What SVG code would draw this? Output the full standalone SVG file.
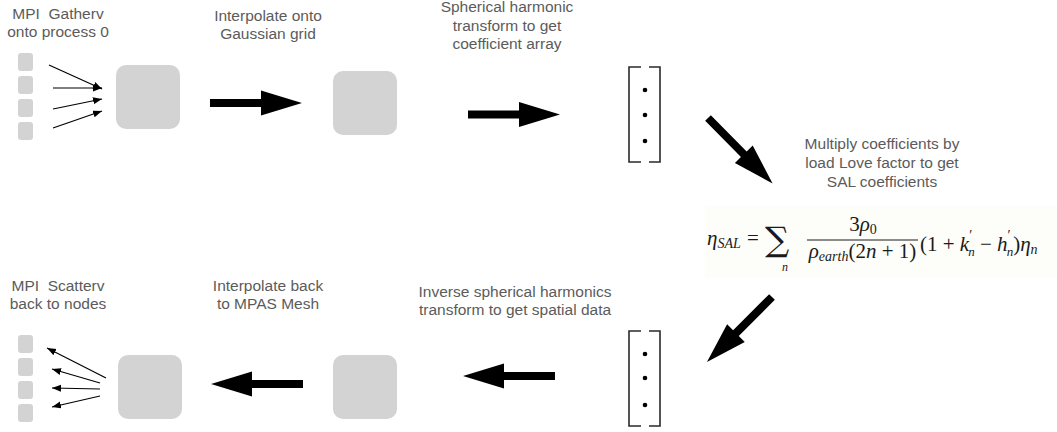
<svg xmlns="http://www.w3.org/2000/svg" width="1057" height="432" viewBox="0 0 1057 432">
  <style>
    .lbl { font-family: "Liberation Sans", Arial, sans-serif; font-size: 15.5px; fill: #5b5b5b; text-anchor: middle; }
    .blk { fill: #d3d3d3; }
    .thin { stroke: #000; stroke-width: 1.2; fill: none; }
    .brk { stroke: #2a2a2a; stroke-width: 1.6; fill: none; }
    .dot { fill: #000; }
    .big { fill: #000; }
    .math { font-family: "Liberation Serif", "Times New Roman", serif; font-size: 21px; fill: #1a1a1a; white-space: pre; }
    .it { font-style: italic; }
    .sub { font-size: 14px; }
    .pr { font-size: 14px; }
  </style>
  <defs>
    <!-- thick block arrow pointing right, tail at origin -->
    <path id="bigArrow" d="M0,-4 H51 V-12.5 L92,0 L51,12.5 V4 H0 Z"/>
    <marker id="tip" markerWidth="10" markerHeight="8" refX="9" refY="3.5" orient="auto" markerUnits="userSpaceOnUse">
      <path d="M0,0 L9,3.5 L0,7 Z" fill="#000"/>
    </marker>
  </defs>

  <rect width="1057" height="432" fill="#fff"/>

  <!-- top row: distributed blocks gathered to one process -->
  <g id="node-gather-label">
    <text class="lbl" x="58" y="19">MPI&#160; Gatherv</text>
    <text class="lbl" x="58" y="37">onto process 0</text>
  </g>
  <g id="node-gather-blocks">
    <rect class="blk" x="18" y="53" width="15" height="18" rx="3"/>
    <rect class="blk" x="18" y="76" width="15" height="18" rx="3"/>
    <rect class="blk" x="18" y="99" width="15" height="18" rx="3"/>
    <rect class="blk" x="18" y="122" width="15" height="18" rx="3"/>
  </g>
  <g id="node-process0">
    <rect class="blk" x="116" y="65" width="64" height="64" rx="10"/>
  </g>

  <g id="node-interp-label">
    <text class="lbl" x="268" y="20.5">Interpolate onto</text>
    <text class="lbl" x="268" y="38.5">Gaussian grid</text>
  </g>
  <g id="node-gaussian">
    <rect class="blk" x="333" y="71" width="64" height="64" rx="10"/>
  </g>

  <g id="node-sht-label">
    <text class="lbl" x="507" y="12">Spherical harmonic</text>
    <text class="lbl" x="507" y="30.5">transform to get</text>
    <text class="lbl" x="507" y="49">coefficient array</text>
  </g>
  <g id="node-coeffs">
    <path class="brk" d="M641,67 H629 V162 H641 M649,67 H660 V162 H649"/>
    <circle class="dot" cx="645" cy="90" r="2.3"/>
    <circle class="dot" cx="645" cy="115" r="2.3"/>
    <circle class="dot" cx="645" cy="141" r="2.3"/>
  </g>

  <g id="node-love-label">
    <text class="lbl" x="882" y="149">Multiply coefficients by</text>
    <text class="lbl" x="882" y="168">load Love factor to get</text>
    <text class="lbl" x="882" y="187">SAL coefficients</text>
  </g>

  <g id="node-formula">
    <rect x="705" y="205" width="352" height="72" fill="#fdfdf9"/>
    <text class="math" x="707" y="245"><tspan class="it">η</tspan><tspan class="it sub" dy="3">SAL</tspan></text>
    <text class="math" x="747" y="245">=</text>
    <text class="math" x="765" y="251" style="font-family:'DejaVu Serif',serif;font-size:34px">∑</text>
    <text class="math it" x="782" y="271" style="font-size:12px">n</text>
    <text class="math" x="863" y="231" text-anchor="middle">3<tspan class="it">ρ</tspan><tspan class="sub" dy="3">0</tspan></text>
    <line x1="807" y1="240" x2="918" y2="240" stroke="#1a1a1a" stroke-width="1"/>
    <text class="math" x="862.5" y="258" text-anchor="middle"><tspan class="it">ρ</tspan><tspan class="it sub" dy="3">earth</tspan><tspan dy="-3">(2</tspan><tspan class="it">n</tspan> + 1)</text>
    <text class="math" x="920" y="251">(1 + <tspan class="it">k</tspan><tspan class="pr" dy="-11">′</tspan><tspan class="it" style="font-size:13px" dx="-4" dy="16">n</tspan><tspan dy="-5"> − </tspan><tspan class="it">h</tspan><tspan class="pr" dy="-11">′</tspan><tspan class="it" style="font-size:13px" dx="-4" dy="16">n</tspan><tspan dy="-5">)</tspan><tspan class="it">η</tspan><tspan class="it sub" dy="3">n</tspan></text>
  </g>

  <!-- bottom row: back from coefficients to the mesh -->
  <g id="node-spatial">
    <path class="brk" d="M641,331 H629 V426 H641 M649,331 H660 V426 H649"/>
    <circle class="dot" cx="645" cy="354" r="2.3"/>
    <circle class="dot" cx="645" cy="378" r="2.3"/>
    <circle class="dot" cx="645" cy="405" r="2.3"/>
  </g>
  <g id="node-isht-label">
    <text class="lbl" x="515" y="297">Inverse spherical harmonics</text>
    <text class="lbl" x="515" y="315">transform to get spatial data</text>
  </g>
  <g id="node-gaussian-back">
    <rect class="blk" x="333" y="355" width="64" height="64" rx="10"/>
  </g>
  <g id="node-interp-back-label">
    <text class="lbl" x="268" y="291">Interpolate back</text>
    <text class="lbl" x="268" y="308.5">to MPAS Mesh</text>
  </g>
  <g id="node-mesh">
    <rect class="blk" x="118" y="355" width="64" height="64" rx="10"/>
  </g>
  <g id="node-scatter-label">
    <text class="lbl" x="58" y="291">MPI&#160; Scatterv</text>
    <text class="lbl" x="58" y="309">back to nodes</text>
  </g>
  <g id="node-scatter-blocks">
    <rect class="blk" x="18" y="335" width="15" height="18" rx="3"/>
    <rect class="blk" x="18" y="358" width="15" height="18" rx="3"/>
    <rect class="blk" x="18" y="381" width="15" height="18" rx="3"/>
    <rect class="blk" x="18" y="404" width="15" height="18" rx="3"/>
  </g>

  <g id="connectors">
    <!-- gather -->
    <line class="thin" x1="49" y1="65" x2="102" y2="89" marker-end="url(#tip)"/>
    <line class="thin" x1="53" y1="88" x2="102" y2="88" marker-end="url(#tip)"/>
    <line class="thin" x1="53" y1="109" x2="102" y2="99" marker-end="url(#tip)"/>
    <line class="thin" x1="53" y1="128" x2="102" y2="111" marker-end="url(#tip)"/>
    <!-- pipeline steps -->
    <use href="#bigArrow" class="big" transform="translate(210,103)"/>
    <use href="#bigArrow" class="big" transform="translate(468,114.5)"/>
    <use href="#bigArrow" class="big" transform="translate(708,118) rotate(45.4)"/>
    <use href="#bigArrow" class="big" transform="translate(772,297) rotate(135)"/>
    <use href="#bigArrow" class="big" transform="translate(555,376) rotate(180)"/>
    <use href="#bigArrow" class="big" transform="translate(303,384) rotate(180)"/>
    <!-- scatter -->
    <line class="thin" x1="106" y1="378" x2="47" y2="348" marker-end="url(#tip)"/>
    <line class="thin" x1="100" y1="383" x2="52" y2="369" marker-end="url(#tip)"/>
    <line class="thin" x1="100" y1="389" x2="52" y2="388" marker-end="url(#tip)"/>
    <line class="thin" x1="100" y1="396" x2="52" y2="407" marker-end="url(#tip)"/>
  </g>
</svg>
